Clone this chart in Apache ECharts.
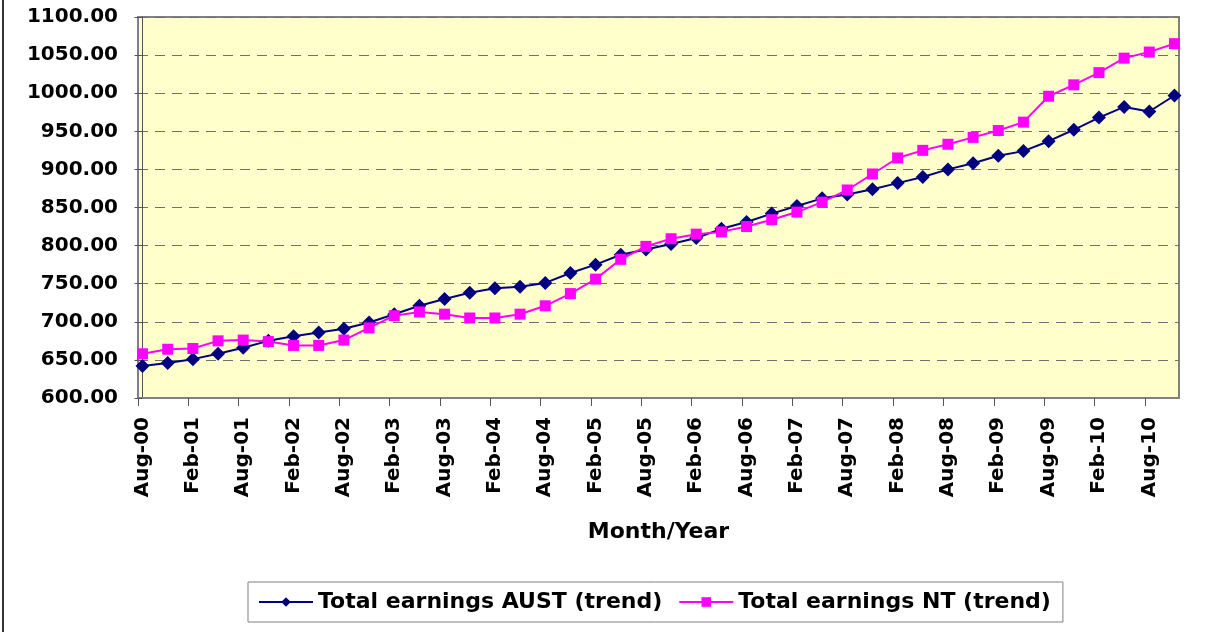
<!DOCTYPE html>
<html>
<head>
<meta charset="utf-8">
<script src="https://cdn.jsdelivr.net/npm/echarts@6/dist/echarts.min.js"></script>
<style>
  html, body { margin: 0; padding: 0; background: #fff; }
  #chart { position: absolute; left: 0; top: 0; width: 1214px; height: 632px; }
  #edge { position: absolute; left: 2px; top: 0; width: 2px; height: 632px; background: #333; }
</style>
</head>
<body>
<div id="chart"></div>
<div id="edge"></div>
<script>
// quarterly periods, Aug-00 .. Nov-10
const months = [
  'Aug-00', 'Nov-00', 'Feb-01', 'May-01', 'Aug-01', 'Nov-01', 'Feb-02', 'May-02',
  'Aug-02', 'Nov-02', 'Feb-03', 'May-03', 'Aug-03', 'Nov-03', 'Feb-04', 'May-04',
  'Aug-04', 'Nov-04', 'Feb-05', 'May-05', 'Aug-05', 'Nov-05', 'Feb-06', 'May-06',
  'Aug-06', 'Nov-06', 'Feb-07', 'May-07', 'Aug-07', 'Nov-07', 'Feb-08', 'May-08',
  'Aug-08', 'Nov-08', 'Feb-09', 'May-09', 'Aug-09', 'Nov-09', 'Feb-10', 'May-10',
  'Aug-10', 'Nov-10'
];

const austEarnings = [
  642, 646, 651, 658, 666, 675, 681, 686, 691, 699,
  710, 721, 730, 738, 744, 746, 751, 764, 775, 788,
  795, 802, 810, 822, 831, 842, 852, 862, 867, 874,
  882, 890, 900, 908, 918, 924, 937, 952, 968, 982,
  976, 997
];

const ntEarnings = [
  658, 664, 665, 675, 676, 674, 669, 669, 676, 692,
  708, 713, 710, 705, 705, 710, 721, 737, 756, 782,
  799, 809, 815, 818, 825, 834, 844, 857, 873, 894,
  915, 925, 933, 942, 951, 962, 996, 1011, 1027, 1046,
  1054, 1065
];

// every second period gets a label
const labelIdx = months.map((m, i) => i).filter(i => i % 2 === 0);
const pad = 0.18;
const tickPos = labelIdx.map(i => i - pad);

const font = '"DejaVu Sans", sans-serif';

const chart = echarts.init(document.getElementById('chart'));

const option = {
  animation: false,
  grid: {
    left: 138,
    right: 35,
    top: 17,
    bottom: 234,
    show: true,
    backgroundColor: '#FFFFCC',
    borderColor: '#808080',
    borderWidth: 2
  },
  legend: {
    left: 248,
    top: 582,
    padding: [9, 12, 9, 10],
    borderColor: '#808080',
    borderWidth: 1,
    itemWidth: 54,
    itemHeight: 12,
    itemGap: 16,
    textStyle: { fontFamily: font, fontWeight: 'bold', fontSize: 22, color: '#000' },
    data: ['Total earnings AUST (trend)', 'Total earnings NT (trend)']
  },
  xAxis: {
    type: 'value',
    min: -pad,
    max: months.length - 1 + pad,
    name: 'Month/Year',
    nameLocation: 'middle',
    nameGap: 123,
    nameTextStyle: { fontFamily: font, fontWeight: 'bold', fontSize: 22, color: '#000' },
    axisLine: { show: true, lineStyle: { color: '#808080', width: 2 } },
    axisTick: {
      show: true,
      length: 8,
      customValues: tickPos,
      lineStyle: { color: '#555' }
    },
    axisLabel: {
      customValues: labelIdx,
      rotate: 90,
      margin: 19,
      fontFamily: font,
      fontWeight: 'bold',
      fontSize: 20,
      color: '#000',
      formatter: v => months[Math.round(v)]
    },
    splitLine: { show: false }
  },
  yAxis: {
    type: 'value',
    min: 600,
    max: 1100,
    interval: 50,
    axisLine: { show: true, lineStyle: { color: '#555', width: 1 } },
    axisTick: { show: true, length: 8, lineStyle: { color: '#555' } },
    axisLabel: {
      margin: 20,
      fontFamily: font,
      fontWeight: 'bold',
      fontSize: 20,
      color: '#000',
      formatter: v => v.toFixed(2)
    },
    splitLine: { show: true, lineStyle: { color: '#707070', type: [10, 7], width: 1.2 } }
  },
  series: [
    {
      name: 'Total earnings AUST (trend)',
      type: 'line',
      data: austEarnings.map((v, i) => [i, v]),
      symbol: 'diamond',
      symbolSize: 14,
      lineStyle: { color: '#000080', width: 2 },
      itemStyle: { color: '#000080' },
      z: 2
    },
    {
      name: 'Total earnings NT (trend)',
      type: 'line',
      data: ntEarnings.map((v, i) => [i, v]),
      symbol: 'rect',
      symbolSize: 11,
      lineStyle: { color: '#FF00FF', width: 2 },
      itemStyle: { color: '#FF00FF' },
      z: 3
    }
  ]
};

chart.setOption(option);
</script>
</body>
</html>
